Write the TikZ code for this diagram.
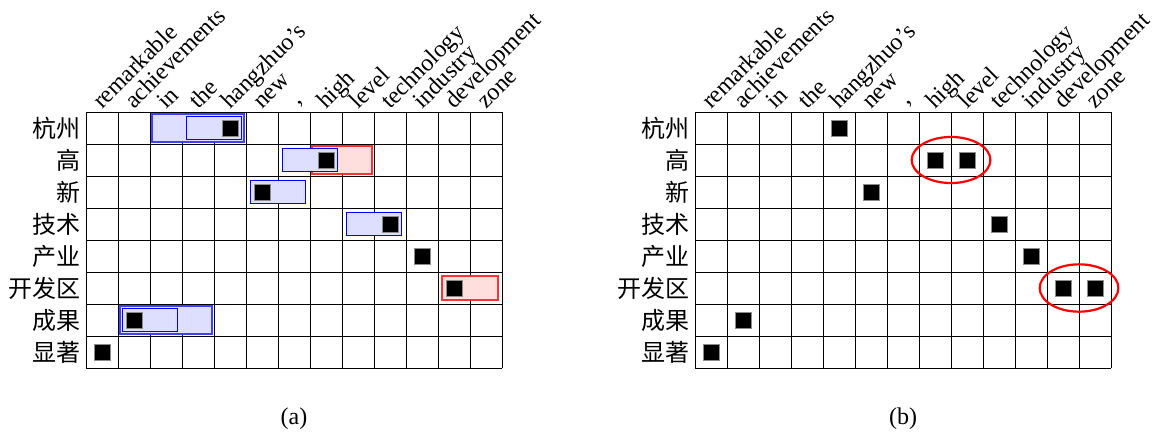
\documentclass[tikz,border=0pt]{standalone}
\usepackage{fontspec}
\setmainfont{Liberation Serif}
\newfontfamily\cjk{Noto Sans CJK SC}
\usepackage{tikz}
\usetikzlibrary{positioning}
\tikzset{
    gridline/.style={line width=0.5pt, black},
    collabel/.style={rotate=45, anchor=base west, inner sep=0pt},
    rowlabel/.style={anchor=east, inner sep=0pt, font=\cjk\fontsize{12}{14}\selectfont},
    cellmark/.style={rectangle, fill=black, draw=black!45, line width=0.4pt, minimum size=8pt, inner sep=0pt},
    bluebox/.style={draw=blue, fill=blue!13, line width=0.6pt},
    blueouter/.style={draw=blue!75, fill=blue!13, line width=1pt},
    redbox/.style={draw=red!80, fill=red!13, line width=0.7pt},
    redring/.style={draw=red, line width=1.1pt}
}
% empty 13x8 grid with word labels, #1 = name suffix
\newcommand{\wordgrid}[1]{%
    \foreach \i in {0,...,13} \draw[gridline] (\i,0) -- (\i,-8);
    \foreach \j in {0,...,8} \draw[gridline] (0,-\j) -- (13,-\j);
    \foreach \w [count=\i from 0] in {remarkable, achievements, in, the, hangzhuo's, new, {\ ,}, high, level, technology, industry, development, zone}
        \node[collabel] (c#1-\i) at (\i+0.5,0.06) {\w};
    \foreach \w [count=\j from 0] in {杭州, 高, 新, 技术, 产业, 开发区, 成果, 显著}
        \node[rowlabel] (r#1-\j) at (-0.15,-\j-0.5) {\w};
}

\begin{document}
\begin{tikzpicture}[x=16pt, y=16pt, font=\fontsize{12}{14}\selectfont]
    \useasboundingbox (0,0) rectangle (36.1875,-13.59375);

    % (a) spans
    \begin{scope}[shift={(2.6875,-3.5)}]
        \wordgrid{a}
        \draw[blueouter] (2.06,-0.06) rectangle (4.94,-0.94);
        \draw[bluebox]   (3.13,-0.13) rectangle (4.87,-0.87);
        \draw[redbox]    (7.06,-1.06) rectangle (8.94,-1.94);
        \draw[bluebox]   (6.13,-1.13) rectangle (7.87,-1.87);
        \draw[bluebox]   (5.13,-2.13) rectangle (6.87,-2.87);
        \draw[bluebox]   (8.13,-3.13) rectangle (9.87,-3.87);
        \draw[redbox]    (11.13,-5.13) rectangle (12.87,-5.87);
        \draw[blueouter] (1.06,-6.06) rectangle (3.94,-6.94);
        \draw[bluebox]   (1.13,-6.13) rectangle (2.87,-6.87);
        \foreach \c/\r [count=\k] in {4/0, 7/1, 5/2, 9/3, 10/4, 11/5, 1/6, 0/7}
            \node[cellmark] (ma-\k) at (\c+0.5,-\r-0.5) {};
        \node (capa) at (6.5,-9.59) {(a)};
    \end{scope}

    % (b) alignments
    \begin{scope}[shift={(21.72,-3.5)}]
        \wordgrid{b}
        \foreach \c/\r [count=\k] in {4/0, 7/1, 8/1, 5/2, 9/3, 10/4, 11/5, 12/5, 1/6, 0/7}
            \node[cellmark] (mb-\k) at (\c+0.5,-\r-0.5) {};
        \draw[redring] (8,-1.5) ellipse [x radius=1.23, y radius=0.72];
        \draw[redring] (12,-5.5) ellipse [x radius=1.23, y radius=0.74];
        \node (capb) at (6.5,-9.59) {(b)};
    \end{scope}
\end{tikzpicture}
\end{document}
